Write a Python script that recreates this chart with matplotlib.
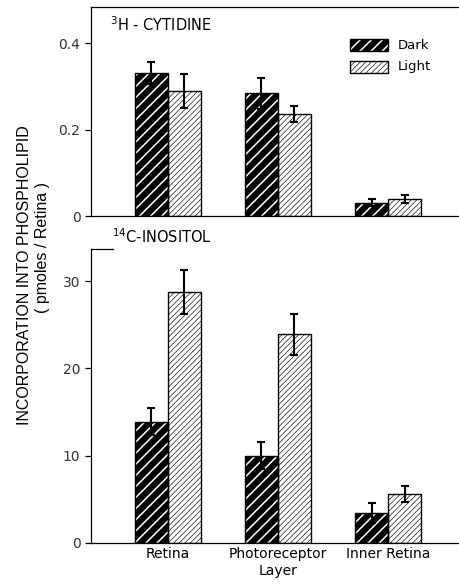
import matplotlib
matplotlib.use("Agg")
import matplotlib.pyplot as plt
from matplotlib.patches import Rectangle
import numpy as np

# data
groups = ["Retina", "Photoreceptor\nLayer", "Inner Retina"]
cyt_dark = [0.332, 0.284, 0.031]
cyt_dark_err = [0.025, 0.036, 0.008]
cyt_light = [0.290, 0.236, 0.039]
cyt_light_err = [0.039, 0.019, 0.009]
ino_dark = [13.9, 10.0, 3.4]
ino_dark_err = [1.6, 1.6, 1.1]
ino_light = [28.8, 23.9, 5.6]
ino_light_err = [2.5, 2.4, 0.9]
cyt_ticks = [0, 0.2, 0.4]
cyt_ticklabels = ["0", "0.2", "0.4"]
ino_ticks = [0, 10, 20, 30]

plt.rcParams["font.family"] = ["DejaVu Sans"]

DARK_HLW = 1.1
LIGHT_HLW = 0.45

fig = plt.figure(figsize=(4.59, 5.86), dpi=100)
ax1 = fig.add_axes([0.198, 0.631, 0.802, 0.357])
ax2 = fig.add_axes([0.198, 0.074, 0.802, 0.501])

x = np.arange(len(groups))
w = 0.3


def set_hlw(patches, lw):
    for p in patches:
        if hasattr(p, "set_hatch_linewidth"):
            p.set_hatch_linewidth(lw)


def draw_bars(ax, dark, dark_err, light, light_err):
    # dark: black with white stripes
    with plt.rc_context({"hatch.linewidth": DARK_HLW}):
        b = ax.bar(x - w / 2, dark, w, color="black", edgecolor="white",
                   hatch="///", linewidth=0, zorder=2)
    set_hlw(b, DARK_HLW)
    ax.bar(x - w / 2, dark, w, fill=False, edgecolor="black", linewidth=1.0, zorder=3)
    # light: white with thin dense black stripes
    with plt.rc_context({"hatch.linewidth": LIGHT_HLW}):
        b = ax.bar(x + w / 2, light, w, color="white", edgecolor="black",
                   hatch="//////", linewidth=0, zorder=2)
    set_hlw(b, LIGHT_HLW)
    ax.bar(x + w / 2, light, w, fill=False, edgecolor="black", linewidth=1.0, zorder=3)
    ax.errorbar(x - w / 2, dark, yerr=dark_err, fmt="none", ecolor="black",
                elinewidth=1.5, capsize=3, capthick=1.5, zorder=4)
    ax.errorbar(x + w / 2, light, yerr=light_err, fmt="none", ecolor="black",
                elinewidth=1.5, capsize=3, capthick=1.5, zorder=4)


draw_bars(ax1, cyt_dark, cyt_dark_err, cyt_light, cyt_light_err)
draw_bars(ax2, ino_dark, ino_dark_err, ino_light, ino_light_err)

for ax in (ax1, ax2):
    ax.set_xlim(-0.7, 2.645)
    ax.spines["right"].set_visible(False)
    ax.spines["left"].set_linewidth(0.9)
    ax.spines["bottom"].set_linewidth(0.9)
    ax.tick_params(axis="y", direction="out", length=4, width=0.9,
                   labelsize=10, colors="black", labelcolor="#333333")
    ax.tick_params(axis="x", length=0)

ax1.set_ylim(0, 0.484)
ax1.set_yticks(cyt_ticks)
ax1.set_yticklabels(cyt_ticklabels)
ax1.set_xticks([])
ax1.spines["top"].set_linewidth(0.9)
ax1.text(0.052, 0.914, "$^3$H - CYTIDINE", transform=ax1.transAxes,
         fontsize=10.5, va="center", ha="left")

ax2.set_ylim(0, 33.7)
ax2.set_yticks(ino_ticks)
ax2.set_xticks(x)
ax2.set_xticklabels(groups, fontsize=10)
ax2.spines["top"].set_visible(False)
ax2.plot([0, 0.06], [1, 1], transform=ax2.transAxes, color="black",
         linewidth=0.9, clip_on=False)
ax2.text(0.057, 1.041, "$^{14}$C-INOSITOL", transform=ax2.transAxes,
         fontsize=10.5, va="center", ha="left")

# legend drawn as small patches
lx, lw, lh = 0.704, 0.103, 0.053
for ly, kind, label in [(0.792, "dark", "Dark"), (0.687, "light", "Light")]:
    if kind == "dark":
        with plt.rc_context({"hatch.linewidth": DARK_HLW}):
            r = Rectangle((lx, ly), lw, lh, transform=ax1.transAxes,
                          facecolor="black", edgecolor="white", hatch="///",
                          linewidth=0, clip_on=False)
        set_hlw([r], DARK_HLW)
    else:
        with plt.rc_context({"hatch.linewidth": LIGHT_HLW}):
            r = Rectangle((lx, ly), lw, lh, transform=ax1.transAxes,
                          facecolor="white", edgecolor="black", hatch="//////",
                          linewidth=0, clip_on=False)
        set_hlw([r], LIGHT_HLW)
    ax1.add_patch(r)
    ax1.add_patch(Rectangle((lx, ly), lw, lh, transform=ax1.transAxes,
                            fill=False, edgecolor="black", linewidth=1.0, clip_on=False))
    ax1.text(0.834, ly + lh / 2, label, transform=ax1.transAxes,
             fontsize=9.5, va="center")

fig.text(0.053, 0.531, "INCORPORATION INTO PHOSPHOLIPID", rotation=90,
         ha="center", va="center", fontsize=11.5, family="Liberation Sans")
fig.text(0.092, 0.578, "( pmoles / Retina )", rotation=90,
         ha="center", va="center", fontsize=11.5, family="Liberation Sans")

fig.savefig("out.png", dpi=100)
